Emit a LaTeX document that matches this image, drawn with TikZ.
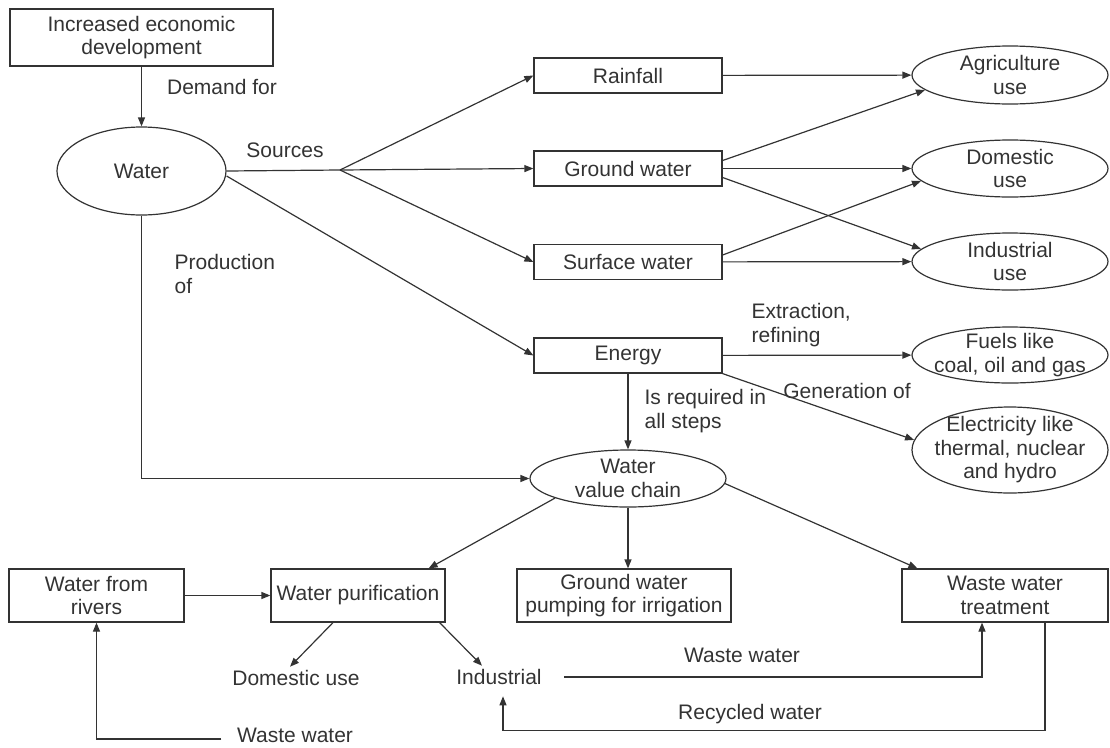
\documentclass[tikz,border=0pt]{standalone}
\usepackage{fontspec}
\setmainfont{Liberation Sans}
\usetikzlibrary{shapes.geometric,arrows.meta}
\definecolor{ink}{HTML}{333333}

\begin{document}
\begin{tikzpicture}[
  x=1pt, y=-1pt,
  line width=1.2pt, draw=ink, text=ink,
  font=\fontsize{21}{23.5}\selectfont,
  % Rectangular stage; the size is given per node.
  box/.style={draw,rectangle,align=center,inner sep=0pt},
  % Ellipses: negative inner sep so the minimum size, not the text, sets the outline.
  oval/.style={draw,ellipse,align=center,inner xsep=-10pt,inner ysep=-6pt},
  lbl/.style={align=left,inner sep=0pt},
  word/.style={inner sep=3pt},
  arr/.style={-{Triangle[length=9pt,width=7pt]}},
]
\useasboundingbox (0,0) rectangle (1110,747);

%--- top: development and water ----------------------------------------------
\node[box,minimum width=263pt,minimum height=57pt] (dev) at (141.5,37.5) {Increased economic\\development};
\node[oval,minimum width=169pt,minimum height=88pt] (water) at (141.5,171) {Water};
\draw[arr] (dev) -- (water);
\node[lbl] (l-demand) at (222,87) {Demand for};

%--- sources -----------------------------------------------------------------
\node[box,minimum width=188pt,minimum height=35pt] (rain)   at (628,75.5)  {Rainfall};
\node[box,minimum width=188pt,minimum height=35pt] (gw)     at (628,168.5) {Ground water};
\node[box,minimum width=188pt,minimum height=35pt] (sw)     at (628,262)   {Surface water};
\node[box,minimum width=188pt,minimum height=35pt] (energy) at (628,355.5) {Energy};

\coordinate (fan) at (340,170);
\draw (water.east) -- (fan);
\foreach \n in {rain,gw,sw} {
  \draw[arr] (fan) -- (\n.west);
}
\draw[arr] ([yshift=-5pt]water.east) -- (energy.west);
\node[lbl] (l-sources) at (285,150) {Sources};

%--- uses ----------------------------------------------------------------------
\node[oval,minimum width=196pt,minimum height=58pt] (agri) at (1010,75)    {Agriculture\\use};
\node[oval,minimum width=196pt,minimum height=57pt] (dom)  at (1010,168.5) {Domestic\\use};
\node[oval,minimum width=196pt,minimum height=57pt] (ind)  at (1010,261.5) {Industrial\\use};

\draw[arr] (rain) -- (agri);
\draw[arr] ([yshift=8pt]gw.east) -- (agri.190);
\draw[arr] (gw) -- (dom);
\draw[arr] ([yshift=-9pt]gw.east) -- (ind.172);
\draw[arr] ([yshift=7pt]sw.east) -- (dom.188);
\draw[arr] (sw) -- (ind);

%--- energy --------------------------------------------------------------------
\node[oval,minimum width=196pt,minimum height=56pt] (fuel) at (1010,355) {Fuels like\\coal, oil and gas};
\node[oval,minimum width=196pt,minimum height=86pt] (elec) at (1010,450) {Electricity like\\thermal, nuclear\\and hydro};
\node[oval,minimum width=196pt,minimum height=57pt] (vc)   at (628,478.5) {Water\\value chain};

\draw[arr] (energy) -- (fuel);
\draw[arr] (energy.south east) -- (elec.174);
\draw[arr] (energy) -- (vc);
\draw[arr] (water.south) |- (vc.west);

\node[lbl,anchor=west] (l-extract) at (751,325) {Extraction,\\refining};
\node[lbl] (l-gen) at (847,391) {Generation of};
\node[lbl,anchor=west] (l-steps) at (644,411) {Is required in\\all steps};
\node[lbl,anchor=west] (l-prod) at (174,274) {Production\\of};

%--- value chain -------------------------------------------------------------
\node[box,minimum width=175pt,minimum height=53pt] (rivers) at (96.5,595.5) {Water from\\rivers};
\node[box,minimum width=174pt,minimum height=53pt] (purif)  at (358,595.5)  {Water purification};
\node[box,minimum width=214pt,minimum height=53pt] (pump)   at (624,595.5)  {Ground water\\pumping for irrigation};
\node[box,minimum width=206pt,minimum height=53pt] (wwt)    at (1005,595.5) {Waste water\\treatment};

\draw[arr] (vc.195) -- ([xshift=-17pt]purif.north east);
\draw[arr] (vc.south) -- (vc.south |- pump.north);
\draw[arr] (vc.357) -- ([xshift=16pt]wwt.north west);
\draw[arr] (rivers) -- (purif);

\node[word] (domu) at (296,678) {Domestic use};
\node[word] (indu) at (499,677) {Industrial};
\node[word] (wwl)  at (295,735) {Waste water};

\draw[arr] ([xshift=-25pt]purif.south) -- ([xshift=-6pt]domu.north);
\draw[arr] ([xshift=-6pt]purif.south east) -- ([xshift=-17pt]indu.north);

%--- return loops --------------------------------------------------------------
\draw[arr] ([xshift=19pt]indu.east) -| ([xshift=-23pt]wwt.south);
\draw[arr] ([xshift=40pt]wwt.south) -- ++(0,108) -| ([xshift=4pt,yshift=-8pt]indu.south);
\draw[arr] ([xshift=-12pt,yshift=-4pt]wwl.west) -| (rivers.south);

\node[lbl] (l-waste)   at (742,655) {Waste water};
\node[lbl] (l-recycle) at (750,714) {Recycled water};

\end{tikzpicture}
\end{document}
